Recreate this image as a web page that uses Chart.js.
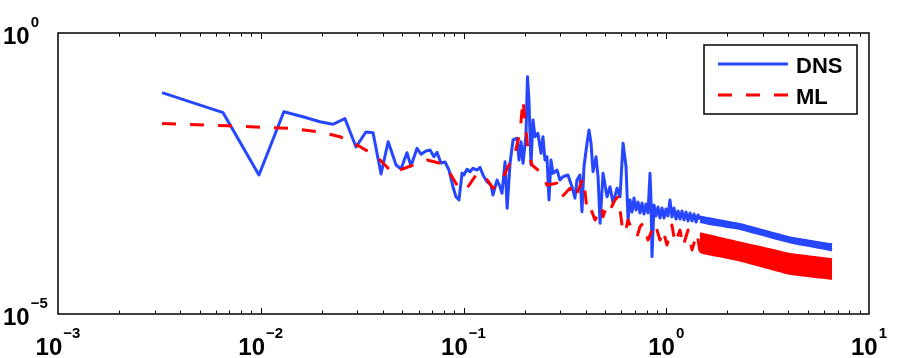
<!DOCTYPE html>
<html>
<head>
<meta charset="utf-8">
<script src="https://cdn.jsdelivr.net/npm/chart.js@4.4.0/dist/chart.umd.min.js"></script>
<style>
  html, body { margin: 0; padding: 0; background: #fff; }
  canvas { display: block; }
</style>
</head>
<body>
<canvas id="spectrum" width="897" height="358"></canvas>
<script>
// spectrum: frequency / power pairs
const dnsFreq = [
  0.00326, 0.00652, 0.0098, 0.013, 0.0163, 0.0196, 0.0227, 0.026, 0.0295, 0.033,
  0.0358, 0.0392, 0.0425, 0.0465, 0.0492, 0.0526, 0.0551, 0.059, 0.0617, 0.0653,
  0.0684, 0.0715, 0.074, 0.0774, 0.0811, 0.0848, 0.0887, 0.0918, 0.095, 0.0984,
  0.1005, 0.1041, 0.1077, 0.1114, 0.1167, 0.1206, 0.1248, 0.1305, 0.1366, 0.1397,
  0.1463, 0.1514, 0.1549, 0.1603, 0.1641, 0.1697, 0.1755, 0.1837, 0.1879, 0.1922,
  0.1966, 0.2033, 0.2068, 0.2103, 0.2152, 0.2202, 0.2252, 0.2329, 0.2411, 0.2465,
  0.2522, 0.258, 0.264, 0.2701, 0.2763, 0.2891, 0.2991, 0.3095, 0.3275, 0.3428,
  0.3547, 0.3628, 0.3753, 0.384, 0.3929, 0.4066, 0.416, 0.4256, 0.4354, 0.4505,
  0.4609, 0.4715, 0.4878, 0.5106, 0.5283, 0.5464, 0.5718, 0.5917, 0.6122, 0.6334,
  0.6479, 0.6628, 0.678, 0.6935, 0.7094, 0.7258, 0.7424, 0.7592, 0.7769, 0.7945,
  0.8129, 0.8316, 0.841, 0.8507, 0.8702, 0.8901, 0.9106, 0.9314, 0.9528, 0.9748,
  0.9966, 1.0196, 1.0431, 1.067, 1.092, 1.117, 1.143, 1.169, 1.196, 1.223,
  1.251, 1.281, 1.31, 1.34, 1.371, 1.402, 1.434, 1.467
];
const dnsPower = [
  0.0867, 0.0382, 0.00297, 0.0398, 0.032, 0.0264, 0.0237, 0.0301, 0.00937, 0.0173,
  0.0168, 0.0031, 0.0116, 0.00448, 0.0038, 0.00741, 0.0043, 0.00887, 0.00695, 0.00795,
  0.00828, 0.0063, 0.00753, 0.00486, 0.00507, 0.00365, 0.00184, 0.00122, 0.00107, 0.00323,
  0.00297, 0.00376, 0.0034, 0.00392, 0.00365, 0.00407, 0.00297, 0.00226, 0.00197, 0.00131,
  0.00242, 0.00184, 0.00141, 0.00513, 0.00076, 0.00481, 0.0125, 0.0134, 0.0055, 0.0116,
  0.00481, 0.0153, 0.167, 0.0643, 0.00448, 0.0283, 0.0143, 0.0164, 0.00723, 0.0143,
  0.0055, 0.0063, 0.00107, 0.0055, 0.00318, 0.00365, 0.00242, 0.00277, 0.00297, 0.00184,
  0.00115, 0.00242, 0.00297, 0.000661, 0.00418, 0.0109, 0.0188, 0.0109, 0.0034, 0.0063,
  0.00277, 0.000411, 0.00318, 0.00122, 0.00184, 0.000933, 0.00173, 0.00122, 0.0109, 0.00418,
  0.000471, 0.00107, 0.000653, 0.00116, 0.000709, 0.000984, 0.000627, 0.000944, 0.000602, 0.000906,
  0.000627, 0.00318, 0.00107, 0.000105, 0.000871, 0.000555, 0.000802, 0.000511, 0.000769, 0.000511,
  0.000738, 0.000555, 0.00107, 0.000532, 0.000769, 0.00049, 0.000681, 0.00049, 0.000681, 0.000471,
  0.000653, 0.000452, 0.000627, 0.000452, 0.000602, 0.000434, 0.000578, 0.000480
];
const mlFreq = [
  0.00326, 0.00682, 0.0103, 0.0139, 0.0196, 0.0246, 0.0309, 0.0374, 0.0449, 0.0486,
  0.0565, 0.0661, 0.0766, 0.0858, 0.0961, 0.1041, 0.1167, 0.1276, 0.1397, 0.1514,
  0.1549, 0.166, 0.1795, 0.1901, 0.1966, 0.2011, 0.208, 0.2177, 0.2437, 0.258,
  0.2891, 0.306, 0.3351, 0.3547, 0.3884, 0.3975, 0.4066, 0.4206, 0.4454, 0.4823,
  0.4878, 0.5106, 0.5283, 0.559, 0.5783, 0.5917, 0.6053, 0.6262, 0.6479, 0.678,
  0.7177, 0.7424, 0.768, 0.8129, 0.8507, 0.8801, 0.9314, 0.9635, 1.0085, 1.067,
  1.104, 1.169, 1.209, 1.281, 1.34, 1.418, 1.467
];
const mlPower = [
  0.0245, 0.0223, 0.021, 0.0201, 0.0173, 0.0143, 0.00949, 0.0063, 0.00318, 0.00365,
  0.00448, 0.0055, 0.00481, 0.00318, 0.00161, 0.00173, 0.00318, 0.00277, 0.00173, 0.00212,
  0.00242, 0.00418, 0.00723, 0.0175, 0.0643, 0.0264, 0.00828, 0.00448, 0.00318, 0.00197,
  0.00212, 0.00122, 0.00173, 0.00115, 0.00259, 0.0015, 0.000709, 0.000811, 0.000471, 0.000811,
  0.000539, 0.000871, 0.000709, 0.00107, 0.00122, 0.000709, 0.000384, 0.000273, 0.000471, 0.000312,
  0.000237, 0.000357, 0.000411, 0.000207, 0.000312, 0.000411, 0.000207, 0.000312, 0.000169, 0.000384,
  0.000181, 0.000312, 0.000158, 0.000312, 0.000138, 0.000273, 0.000130
];
// high-frequency tail: both curves oscillate so densely that they read as bands;
// upper and lower edges of each band
const tailFreqUpper = [
  1.467, 1.571, 1.682, 1.8, 1.927, 2.063, 2.209, 2.365, 2.532, 2.71,
  2.901, 3.106, 3.325, 3.559, 3.81, 4.079, 4.367, 4.674, 5.004, 5.357,
  5.734, 6.139, 6.572
];
const tailFreqLower = [
  1.467, 1.518, 1.625, 1.74, 1.863, 1.994, 2.135, 2.286, 2.447, 2.619, 2.804,
  3.002, 3.213, 3.44, 3.683, 3.942, 4.22, 4.518, 4.836, 5.177, 5.542,
  5.933, 6.351, 6.572
];
const dnsTailUpper = [
  5.32e-4, 5.08e-4, 4.85e-4, 4.63e-4, 4.43e-4, 4.23e-4, 4.04e-4, 3.83e-4, 3.58e-4, 3.35e-4,
  3.13e-4, 2.94e-4, 2.75e-4, 2.57e-4, 2.40e-4, 2.25e-4, 2.16e-4, 2.08e-4, 2.00e-4, 1.92e-4,
  1.84e-4, 1.77e-4, 1.70e-4
];
const dnsTailLower = [
  4.40e-4, 4.32e-4, 4.07e-4, 3.93e-4, 3.78e-4, 3.62e-4, 3.48e-4, 3.35e-4, 3.14e-4, 2.94e-4, 2.75e-4,
  2.58e-4, 2.41e-4, 2.25e-4, 2.11e-4, 1.98e-4, 1.87e-4, 1.78e-4, 1.71e-4, 1.63e-4, 1.56e-4,
  1.49e-4, 1.42e-4, 1.38e-4
];
const mlTailUpper = [
  2.67e-4, 2.53e-4, 2.39e-4, 2.25e-4, 2.13e-4, 2.01e-4, 1.90e-4, 1.80e-4, 1.70e-4, 1.61e-4,
  1.52e-4, 1.44e-4, 1.36e-4, 1.28e-4, 1.21e-4, 1.15e-4, 1.11e-4, 1.08e-4, 1.04e-4, 1.01e-4,
  9.78e-5, 9.48e-5, 9.19e-5
];
const mlTailLower = [
  1.30e-4, 1.24e-4, 1.18e-4, 1.12e-4, 1.07e-4, 1.02e-4, 9.68e-5, 9.21e-5, 8.65e-5, 8.10e-5, 7.57e-5,
  7.08e-5, 6.63e-5, 6.20e-5, 5.81e-5, 5.43e-5, 5.18e-5, 5.03e-5, 4.89e-5, 4.76e-5, 4.62e-5,
  4.49e-5, 4.36e-5, 4.28e-5
];

const xTicks = [1e-3, 1e-2, 1e-1, 1e0, 1e1];
const xTickLabels = ['10^\u22123', '10^\u22122', '10^\u22121', '10^0', '10^1'];
const yTicks = [1e0, 1e-5];
const yTickLabels = ['10^0', '10^\u22125'];

const FONT = '"Liberation Sans", Arial, Helvetica, sans-serif';
const BLUE = '#2746ff';
const RED = '#ff0000';

function pairs(xs, ys) {
  return xs.map((x, i) => ({ x: x, y: ys[i] }));
}

function band(xs, ys, color, fill) {
  return {
    label: '', data: pairs(xs, ys), borderColor: color, backgroundColor: color,
    borderWidth: 3, pointRadius: 0, tension: 0, fill: fill, order: 3
  };
}

function drawPow(ctx, label, x, baseline, align) {
  const parts = label.split('^');
  ctx.font = 'bold 24px ' + FONT;
  const wBase = ctx.measureText(parts[0]).width;
  ctx.font = 'bold 15px ' + FONT;
  const wExp = ctx.measureText(parts[1]).width;
  let left = x;
  if (align === 'center') left = x - (wBase + 1 + wExp) / 2;
  ctx.fillStyle = '#000';
  ctx.textAlign = 'left';
  ctx.textBaseline = 'alphabetic';
  ctx.font = 'bold 24px ' + FONT;
  ctx.fillText(parts[0], left, baseline);
  ctx.font = 'bold 15px ' + FONT;
  ctx.fillText(parts[1], left + wBase + 1, baseline - 17);
}

const matlabAxes = {
  id: 'matlabAxes',
  afterDraw(chart) {
    const ctx = chart.ctx;
    const a = chart.chartArea;
    const xs = chart.scales.x, ys = chart.scales.y;
    ctx.save();
    // box
    ctx.strokeStyle = '#000';
    ctx.lineWidth = 1.5;
    ctx.setLineDash([]);
    ctx.strokeRect(a.left, a.top, a.right - a.left, a.bottom - a.top);
    // inward x ticks on top and bottom
    ctx.lineWidth = 1;
    ctx.beginPath();
    for (let d = -3; d < 1; d++) {
      for (let m = 1; m <= 9; m++) {
        if (m === 1 && d === -3) continue;
        const px = Math.round(xs.getPixelForValue(m * Math.pow(10, d))) + 0.5;
        const len = m === 1 ? 6 : 3.5;
        ctx.moveTo(px, a.bottom); ctx.lineTo(px, a.bottom - len);
        ctx.moveTo(px, a.top); ctx.lineTo(px, a.top + len);
      }
    }
    ctx.stroke();
    // tick labels
    xTicks.forEach((v, i) => {
      drawPow(ctx, xTickLabels[i], xs.getPixelForValue(v), a.bottom + 41, 'center');
    });
    yTicks.forEach((v, i) => {
      drawPow(ctx, yTickLabels[i], 3, ys.getPixelForValue(v) + 10.5, 'left');
    });
    // legend
    const lx = 704, ly = 45, lw = 153, lh = 69;
    ctx.fillStyle = '#fff';
    ctx.fillRect(lx, ly, lw, lh);
    ctx.lineWidth = 1.5;
    ctx.strokeStyle = '#000';
    ctx.strokeRect(lx, ly, lw, lh);
    chart.data.datasets.slice(0, 2).forEach((ds, i) => {
      const y = 64 + i * 31;
      ctx.strokeStyle = ds.borderColor;
      ctx.lineWidth = ds.borderWidth;
      ctx.setLineDash(ds.borderDash || []);
      ctx.beginPath();
      ctx.moveTo(718, y); ctx.lineTo(788, y);
      ctx.stroke();
      ctx.setLineDash([]);
      ctx.fillStyle = '#000';
      ctx.font = 'bold 22px ' + FONT;
      ctx.textAlign = 'left';
      ctx.textBaseline = 'alphabetic';
      ctx.fillText(ds.label, 796, y + 9);
    });
    ctx.restore();
  }
};

new Chart(document.getElementById('spectrum'), {
  type: 'line',
  data: {
    datasets: [
      {
        label: 'DNS',
        data: pairs(dnsFreq, dnsPower),
        borderColor: BLUE,
        borderWidth: 3,
        pointRadius: 0,
        tension: 0,
        borderJoinStyle: 'round',
        order: 2
      },
      {
        label: 'ML',
        data: pairs(mlFreq, mlPower),
        borderColor: RED,
        borderWidth: 3,
        borderDash: [14, 14],
        pointRadius: 0,
        tension: 0,
        borderJoinStyle: 'round',
        order: 1
      },
      band(tailFreqUpper, dnsTailUpper, BLUE, '+1'),
      band(tailFreqLower, dnsTailLower, BLUE, false),
      band(tailFreqUpper, mlTailUpper, RED, '+1'),
      band(tailFreqLower, mlTailLower, RED, false)
    ]
  },
  options: {
    responsive: false,
    animation: false,
    devicePixelRatio: 1,
    layout: { padding: { top: 33, right: 28, left: 0, bottom: 0 } },
    scales: {
      x: {
        type: 'logarithmic', min: 1e-3, max: 10,
        ticks: { display: false }, grid: { display: false }, border: { display: false },
        afterFit(s) { s.height = 44; }
      },
      y: {
        type: 'logarithmic', min: 1e-5, max: 1,
        ticks: { display: false }, grid: { display: false }, border: { display: false },
        afterFit(s) { s.width = 58; }
      }
    },
    plugins: {
      legend: { display: false },
      tooltip: { enabled: false }
    }
  },
  plugins: [matlabAxes]
});
</script>
</body>
</html>
